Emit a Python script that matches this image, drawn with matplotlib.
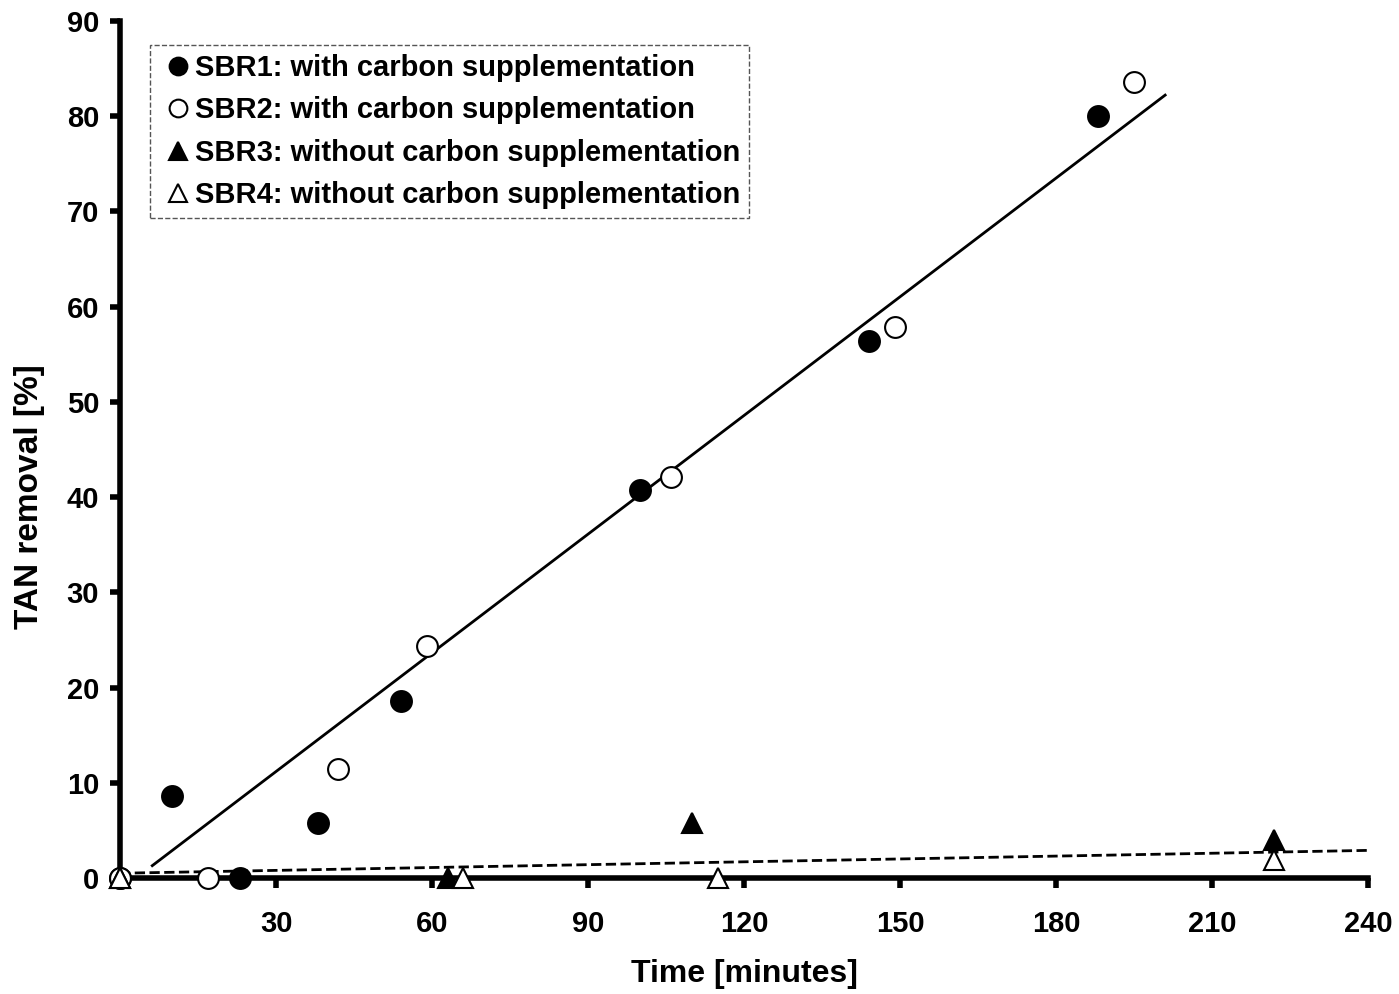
import matplotlib
matplotlib.use('Agg')
import matplotlib.pyplot as plt
import numpy as np

plt.rcParams['font.family'] = ['Liberation Sans', 'DejaVu Sans']
plt.rcParams['font.weight'] = 'bold'

# data
sbr1_t = [0, 10, 23, 38, 54, 100, 144, 188]
sbr1_y = [0, 8.6, 0, 5.8, 18.6, 40.7, 56.4, 80.0]
sbr2_t = [0, 17, 42, 59, 106, 149, 195]
sbr2_y = [0, 0, 11.4, 24.4, 42.1, 57.9, 83.6]
sbr3_t = [0, 63, 110, 222]
sbr3_y = [0, 0, 5.8, 4.0]
sbr4_t = [0, 66, 115, 222]
sbr4_y = [0, 0, 0, 1.9]

# trend lines (slope, intercept, x range)
fit_with = (0.4154, -1.28, 6.2, 201)
fit_without = (0.01, 0.5, 0, 240)

labels = ['SBR1: with carbon supplementation',
          'SBR2: with carbon supplementation',
          'SBR3: without carbon supplementation',
          'SBR4: without carbon supplementation']

fig = plt.figure(figsize=(13.99, 9.94), dpi=100)
ax = fig.add_axes([0.0858, 0.1167, 0.892, 0.8622])

ms = 15
kw = dict(linestyle='none', markeredgecolor='black', markeredgewidth=1.5,
          clip_on=False, zorder=5)
ax.plot(sbr1_t, sbr1_y, 'o', markerfacecolor='black', markersize=ms, label=labels[0], **kw)
ax.plot(sbr2_t, sbr2_y, 'o', markerfacecolor='white', markersize=ms, label=labels[1], **kw)
ax.plot(sbr3_t, sbr3_y, '^', markerfacecolor='black', markersize=ms, label=labels[2], **kw)
ax.plot(sbr4_t, sbr4_y, '^', markerfacecolor='white', markersize=ms, label=labels[3], **kw)

for (m, b, x0, x1), ls in [(fit_with, '-'), (fit_without, '--')]:
    xs = np.array([x0, x1])
    ax.plot(xs, m * xs + b, color='black', linestyle=ls, linewidth=2, zorder=3)

ax.set_xlim(0, 240)
ax.set_ylim(0, 90)
ax.set_xticks(range(0, 241, 30))
ax.set_xticklabels([''] + [str(v) for v in range(30, 241, 30)])
ax.set_yticks(range(0, 91, 10))

for s in ['top', 'right']:
    ax.spines[s].set_visible(False)
for s in ['left', 'bottom']:
    ax.spines[s].set_linewidth(4)
ax.tick_params(axis='both', direction='out', length=7, width=4, labelsize=21)
ax.tick_params(axis='x', pad=16)
ax.tick_params(axis='y', pad=8)

ax.set_xlabel('Time [minutes]', fontsize=23, fontweight='bold', labelpad=15)
ax.set_ylabel('TAN removal [%]', fontsize=24, fontweight='bold')
ax.yaxis.set_label_coords(-0.060, 0.445)

leg = ax.legend(loc='upper left', bbox_to_anchor=(0.024, 0.972), fontsize=21,
                markerscale=0.85, handlelength=1.3, handletextpad=-0.05,
                labelspacing=0.5, borderpad=0.3, borderaxespad=0,
                fancybox=False, framealpha=1)
leg.get_frame().set_edgecolor('#555555')
leg.get_frame().set_linestyle('--')
leg.get_frame().set_linewidth(1)

fig.savefig('out.png', dpi=100)
